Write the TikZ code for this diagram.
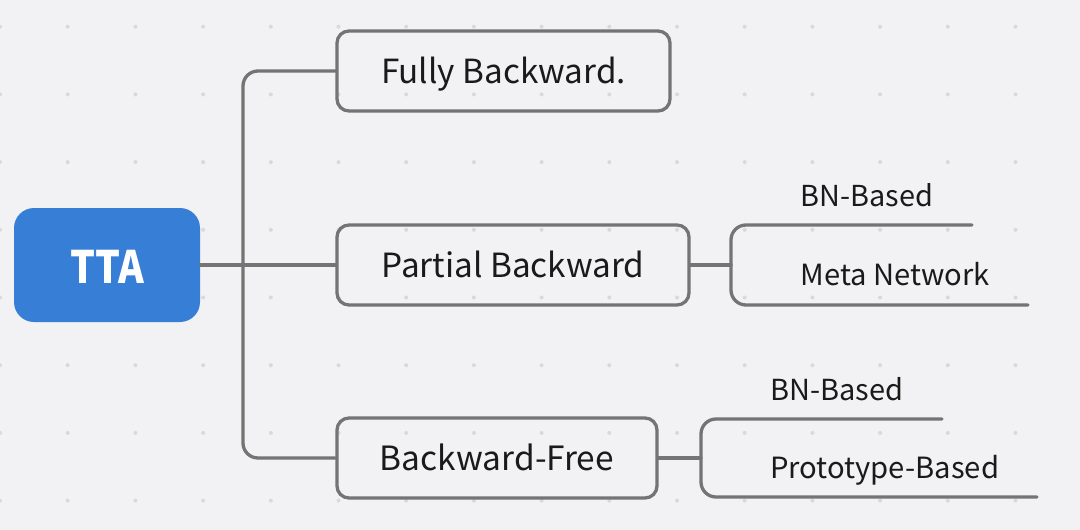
\documentclass[tikz,border=0pt]{standalone}
\usepackage{graphicx}
\usepackage{fontspec}
\setmainfont{Noto Sans CJK SC}
\definecolor{bgc}{HTML}{F2F2F4}
\definecolor{dotc}{HTML}{D9D9DC}
\definecolor{linec}{HTML}{747474}
\definecolor{rootc}{HTML}{367ED6}
\definecolor{txtc}{HTML}{1A1A1A}
\newcommand{\fitw}[2]{\resizebox{#1}{!}{#2}}
\tikzset{
  rootbox/.style={fill=rootc, draw=none, rounded corners=20pt, minimum width=186pt, minimum height=114pt,
    text=white, font=\fontsize{40}{46}\selectfont\bfseries, inner sep=0pt, text height=36.6pt, text depth=0pt},
  mainbox/.style={draw=linec, line width=3.3pt, rounded corners=12pt, minimum height=80pt,
    text=txtc, font=\fontsize{32}{38}\selectfont, inner sep=0pt, text height=30pt, text depth=5.5pt},
  sublabel/.style={anchor=base west, text=txtc, font=\fontsize{29.5}{34}\selectfont, inner sep=0pt},
  conn/.style={draw=linec, line width=3.3pt, line cap=round},
}
\begin{document}
\begin{tikzpicture}[x=1pt,y=-1pt]
\fill[bgc] (0,0) rectangle (1080,530);
\useasboundingbox (0,0) rectangle (1080,530);
\foreach \i in {0,...,16}
  \foreach \j in {0,...,7}
    \fill[dotc] (\i*67.7, 26.7+\j*67.7) circle (2);

\node[rootbox] (tta) at (107,265) {\resizebox{74pt}{33.3pt}{TTA}};
\node[mainbox, minimum width=333pt] (fully) at (503.5,71) {\fitw{245pt}{Fully Backward.}};
\node[mainbox, minimum width=352pt] (partial) at (513,265) {\fitw{263pt}{Partial Backward}};
\node[mainbox, minimum width=320pt] (free) at (497,458) {\fitw{234pt}{Backward-Free}};

\coordinate (trunk) at (243,265);
\draw[conn] (tta.east) -- (partial.west);
\draw[conn, rounded corners=15pt] (fully.west) -| (trunk) |- (free.west);

% Partial Backward children
\coordinate (pj) at (731,265);
\coordinate (p1end) at (972,225);
\coordinate (p2end) at (1028,305);
\draw[conn] (partial.east) -- (pj);
\draw[conn, rounded corners=15pt] (p1end) -| (pj) |- (p2end);
\node[sublabel] (pbn) at (800.5,206) {\fitw{132.5pt}{BN-Based}};
\node[sublabel] (pmeta) at (800.5,285) {\fitw{189pt}{Meta Network}};

% Backward-Free children
\coordinate (fj) at (701,458);
\coordinate (f1end) at (942,419);
\coordinate (f2end) at (1037,497);
\draw[conn] (free.east) -- (fj);
\draw[conn, rounded corners=15pt] (f1end) -| (fj) |- (f2end);
\node[sublabel] (fbn) at (770,400.5) {\fitw{133pt}{BN-Based}};
\node[sublabel] (fproto) at (770,478) {\fitw{229pt}{Prototype-Based}};
\end{tikzpicture}
\end{document}
